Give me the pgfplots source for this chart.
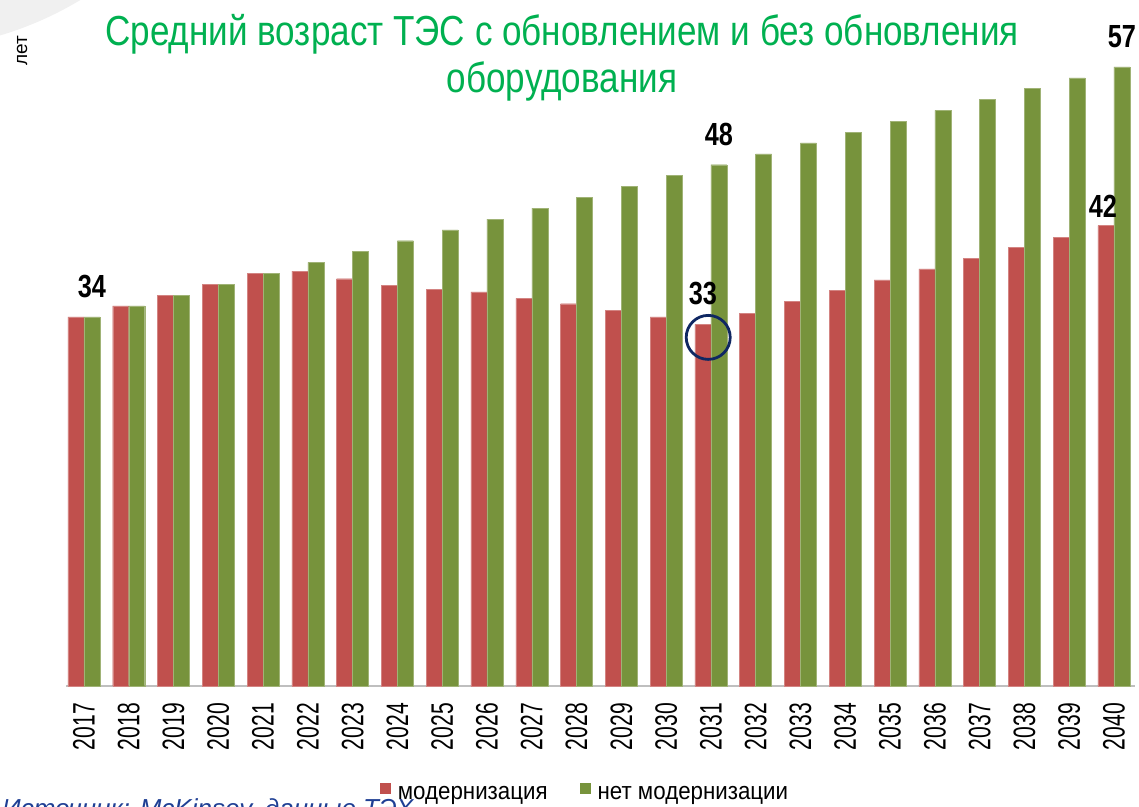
\documentclass[border=0pt]{standalone}
\usepackage{fontspec}
\setmainfont{Liberation Sans}
\newfontfamily\titlefont{Liberation Sans}[FakeStretch=0.835]
\newfontfamily\numfont{Liberation Sans}[FakeStretch=0.79]
\newfontfamily\tickfont{Liberation Sans}[FakeStretch=0.68]
\newfontfamily\legfont{Liberation Sans}[FakeStretch=0.91]
\usepackage{pgfplots}
\pgfplotsset{compat=1.18}
\definecolor{cred}{HTML}{C0504D}
\definecolor{cgreen}{HTML}{77933C}
\definecolor{ctitle}{HTML}{00B050}
\definecolor{cnavy}{HTML}{0F2762}
\definecolor{csrc}{HTML}{1F3F94}
\begin{document}
\begin{tikzpicture}[x=1pt,y=1pt]
\useasboundingbox (0,0) rectangle (1139,806);
\fill[black!6] (-100,1106) circle (350);
\begin{axis}[
  at={(66pt,120pt)}, anchor=south west,
  scale only axis, width=1069pt, height=651.6pt,
  ymin=0, ymax=60, xmin=-0.4, xmax=23.47,
  ybar=0pt, bar width=16pt,
  axis x line*=bottom, axis y line=none,
  x axis line style={draw=black!25, line width=1.2pt, -},
  ytick=\empty,
  xtick={0,...,23},
  xticklabels={2017,2018,2019,2020,2021,2022,2023,2024,2025,2026,2027,2028,2029,2030,2031,2032,2033,2034,2035,2036,2037,2038,2039,2040},
  major tick length=0pt,
  xticklabel style={rotate=90, anchor=east, font=\tickfont\fontsize{31}{31}\selectfont, inner sep=0pt},
  xticklabel shift=17pt,
  legend style={at={(0.4855,-0.164)}, anchor=center, draw=none, fill=none,
    legend columns=2, font=\legfont\fontsize{24.5}{26}\selectfont,
    /tikz/every even column/.append style={column sep=30pt},
    inner sep=0pt, cells={anchor=west}},
  legend image code/.code={\fill[#1, draw=none] (0pt,-1pt) rectangle (11pt,10pt); \path[draw=none, fill=none] (0pt,0pt) -- (16pt,0pt);},
  clip=false,
]
\addplot[fill=cred, draw=cred!70!white, line width=0.4pt] coordinates {
(0,34.0) (1,35.0) (2,36.0) (3,37.0) (4,38.0) (5,38.2) (6,37.5) (7,36.9)
(8,36.5) (9,36.3) (10,35.7) (11,35.2) (12,34.6) (13,34.0) (14,33.3) (15,34.3)
(16,35.4) (17,36.4) (18,37.4) (19,38.4) (20,39.4) (21,40.4) (22,41.3) (23,42.4)};
\addlegendentry{модернизация}
\addplot[fill=cgreen, draw=cgreen!70!white, line width=0.4pt] coordinates {
(0,34) (1,35) (2,36) (3,37) (4,38) (5,39) (6,40) (7,41)
(8,42) (9,43) (10,44) (11,45) (12,46) (13,47) (14,48) (15,49)
(16,50) (17,51) (18,52) (19,53) (20,54) (21,55) (22,56) (23,57)};
\addlegendentry{нет модернизации}
\tikzset{lab/.style={font=\numfont\bfseries\fontsize{32}{32}\selectfont, anchor=south, inner sep=0pt}}
\node[lab] at ([xshift=8pt,yshift=19pt]axis cs:0,34) {34};
\node[lab] at ([xshift=8pt,yshift=19pt]axis cs:14,48) {48};
\node[lab] at ([xshift=8pt,yshift=19pt]axis cs:23,57) {57};
\node[lab] at ([xshift=-8pt,yshift=19pt]axis cs:14,33.3) {33};
\node[lab] at ([xshift=-11pt,yshift=8pt]axis cs:23,42.4) {42};
\draw[cnavy, line width=2.8pt] (axis cs:13.94,32.1) circle (22pt);
\end{axis}
\node[text=ctitle, align=center, font=\titlefont\fontsize{42}{47}\selectfont, anchor=north, inner sep=0pt] at (562,792) {Средний возраст ТЭС с обновлением и без обновления\\оборудования};
\node[rotate=90, font=\fontsize{19}{19}\selectfont, inner sep=0pt] at (22,755) {лет};
\node[anchor=north west, inner sep=0pt, text=csrc, font=\itshape\fontsize{26}{26}\selectfont] at (2,8) {Источник: McKinsey, данные ТЭХ};
\end{tikzpicture}
\end{document}
